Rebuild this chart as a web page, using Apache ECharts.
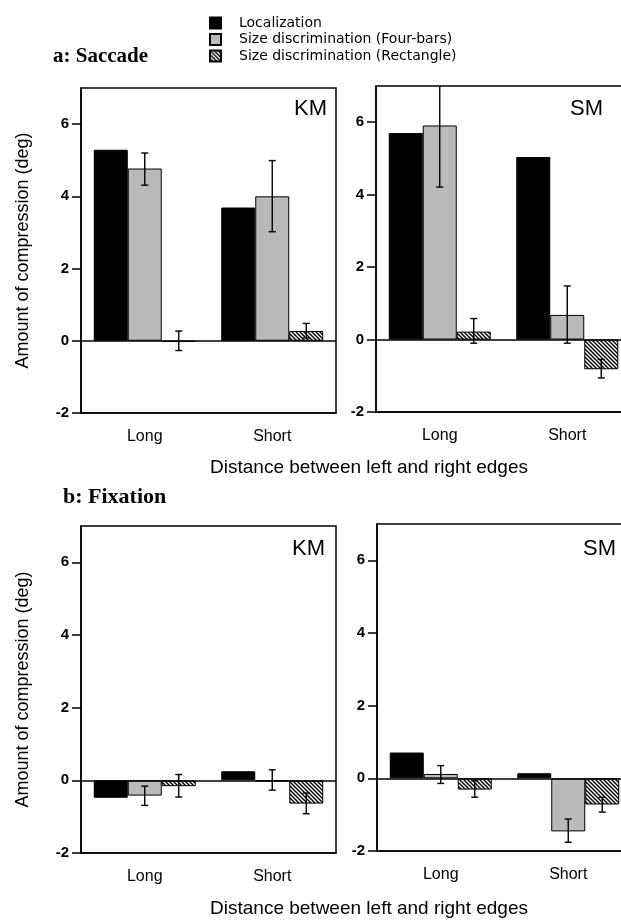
<!DOCTYPE html>
<html>
<head>
<meta charset="utf-8">
<script src="https://cdn.jsdelivr.net/npm/echarts@6/dist/echarts.min.js"></script>
<style>
html,body{margin:0;padding:0;background:#fff;}
#main{width:621px;height:922px;}
</style>
</head>
<body>
<div id="main"></div>
<script>
// ---- data ----
const categories = ['Long', 'Short'];
const seriesNames = ['Localization', 'Size discrimination (Four-bars)', 'Size discrimination (Rectangle)'];
const yTicks = [-2, 0, 2, 4, 6];

// a: Saccade, KM
const sacKM_loc  = [5.29, 3.69];
const sacKM_four = [4.77, 4.00];
const sacKM_rect = [-0.03, 0.27];
const sacKM_fourErr = [[4.31, 5.20], [3.02, 4.99]];
const sacKM_rectErr = [[-0.27, 0.27], [0.08, 0.48]];

// a: Saccade, SM
const sacSM_loc  = [5.70, 5.04];
const sacSM_four = [5.91, 0.68];
const sacSM_rect = [0.22, -0.82];
const sacSM_fourErr = [[4.21, 7.61], [-0.10, 1.48]];
const sacSM_rectErr = [[-0.10, 0.58], [-1.06, -0.55]];

// b: Fixation, KM
const fixKM_loc  = [-0.48, 0.25];
const fixKM_four = [-0.42, -0.03];
const fixKM_rect = [-0.16, -0.64];
const fixKM_fourErr = [[-0.69, -0.16], [-0.27, 0.29]];
const fixKM_rectErr = [[-0.46, 0.16], [-0.92, -0.35]];

// b: Fixation, SM
const fixSM_loc  = [0.71, 0.14];
const fixSM_four = [0.12, -1.46];
const fixSM_rect = [-0.31, -0.72];
const fixSM_fourErr = [[-0.14, 0.35], [-1.76, -1.12]];
const fixSM_rectErr = [[-0.52, -0.07], [-0.93, -0.52]];

const panelTitles = ['a: Saccade', 'b: Fixation'];
const subjectLabels = ['KM', 'SM', 'KM', 'SM'];
const xTitle = 'Distance between left and right edges';
const yTitle = 'Amount of compression (deg)';

// ---- build ----
const panels = [
  {loc: sacKM_loc, four: sacKM_four, rect: sacKM_rect, fourErr: sacKM_fourErr, rectErr: sacKM_rectErr},
  {loc: sacSM_loc, four: sacSM_four, rect: sacSM_rect, fourErr: sacSM_fourErr, rectErr: sacSM_rectErr},
  {loc: fixKM_loc, four: fixKM_four, rect: fixKM_rect, fourErr: fixKM_fourErr, rectErr: fixKM_rectErr},
  {loc: fixSM_loc, four: fixSM_four, rect: fixSM_rect, fourErr: fixSM_fourErr, rectErr: fixSM_rectErr}
];

const grids = [
  {left: 81, top: 88, width: 255, height: 325},
  {left: 376, top: 86, width: 255, height: 326},
  {left: 81, top: 526, width: 255, height: 327},
  {left: 377, top: 524, width: 255, height: 327}
];

// hatch pattern
const tile = document.createElement('canvas');
tile.width = 4; tile.height = 4;
const tctx = tile.getContext('2d');
tctx.fillStyle = '#fff';
tctx.fillRect(0, 0, 4, 4);
tctx.strokeStyle = '#000';
tctx.lineWidth = 1.4;
tctx.beginPath();
tctx.moveTo(-1, -1); tctx.lineTo(5, 5);
tctx.moveTo(-1, 3); tctx.lineTo(1, 5);
tctx.moveTo(3, -1); tctx.lineTo(5, 1);
tctx.stroke();
const hatch = {image: tile, repeat: 'repeat'};

const fills = ['#000000', '#bababa', hatch];

function errRender(params, api) {
  const cat = api.value(0), lo = api.value(1), hi = api.value(2), slot = api.value(3);
  const band = api.size([1, 0])[0];
  const barW = band * 0.8 / 3;
  const cx = api.coord([cat, 0])[0] + (slot - 1) * barW;
  const yLo = api.coord([cat, lo])[1];
  const yHi = api.coord([cat, hi])[1];
  const c = 3.5;
  const st = {stroke: '#000', lineWidth: 1.4};
  return {
    type: 'group',
    children: [
      {type: 'line', shape: {x1: cx, y1: yLo, x2: cx, y2: yHi}, style: st},
      {type: 'line', shape: {x1: cx - c, y1: yLo, x2: cx + c, y2: yLo}, style: st},
      {type: 'line', shape: {x1: cx - c, y1: yHi, x2: cx + c, y2: yHi}, style: st}
    ]
  };
}

const xAxes = [], yAxes = [], series = [], gridOpts = [];
grids.forEach((g, i) => {
  gridOpts.push(Object.assign({show: true, borderColor: '#000', borderWidth: 1.5, backgroundColor: 'transparent', containLabel: false, outerBoundsMode: 'none'}, g));
  xAxes.push({
    type: 'category', gridIndex: i, data: categories,
    axisLine: {onZero: false, lineStyle: {color: '#000', width: 1.5}},
    axisTick: {show: false},
    axisLabel: {color: '#000', fontSize: 16, margin: 16, fontFamily: 'Liberation Sans'}
  });
  const left = (i % 2 === 0);
  yAxes.push({
    type: 'value', gridIndex: i, min: -2, max: 7, interval: 2,
    splitLine: {show: false},
    axisLine: {show: true, lineStyle: {color: '#000', width: 1.5}},
    axisTick: {show: true, length: 9, customValues: yTicks, lineStyle: {color: '#000', width: 1.5}},
    axisLabel: {color: '#000', fontSize: 15, fontWeight: 'bold', margin: 12, fontFamily: 'Liberation Sans', customValues: yTicks},
    name: left ? yTitle : '',
    nameLocation: 'middle',
    nameGap: 49,
    nameTextStyle: {color: '#000', fontSize: 18, fontFamily: 'Liberation Sans'}
  });
  const p = panels[i];
  const vals = [p.loc, p.four, p.rect];
  vals.forEach((v, k) => {
    const s = {
      type: 'bar', name: seriesNames[k], xAxisIndex: i, yAxisIndex: i,
      data: v, barGap: '0%', barCategoryGap: '20%',
      itemStyle: {color: fills[k], borderColor: '#000', borderWidth: 1},
      emphasis: {disabled: true}
    };
    if (k === 0) {
      s.markLine = {
        silent: true, symbol: ['none', 'none'], label: {show: false},
        lineStyle: {color: '#000', width: 1.5, type: 'solid'},
        data: [{yAxis: 0}]
      };
    }
    series.push(s);
  });
  [[p.fourErr, 1], [p.rectErr, 2]].forEach(([err, slot]) => {
    series.push({
      type: 'custom', xAxisIndex: i, yAxisIndex: i, clip: true, z: 5,
      renderItem: errRender,
      data: err.map((e, ci) => [ci, e[0], e[1], slot])
    });
  });
});

const titles = [
  {text: panelTitles[0], left: 53, top: 46, textStyle: {fontFamily: 'Liberation Serif', fontWeight: 'bold', fontSize: 21, color: '#000'}},
  {text: panelTitles[1], left: 63, top: 486, textStyle: {fontFamily: 'Liberation Serif', fontWeight: 'bold', fontSize: 22, color: '#000'}},
  {text: subjectLabels[0], left: 294, top: 98, textStyle: {fontFamily: 'Liberation Sans', fontWeight: 'normal', fontSize: 22, color: '#000'}},
  {text: subjectLabels[1], left: 570, top: 98, textStyle: {fontFamily: 'Liberation Sans', fontWeight: 'normal', fontSize: 22, color: '#000'}},
  {text: subjectLabels[2], left: 292, top: 538, textStyle: {fontFamily: 'Liberation Sans', fontWeight: 'normal', fontSize: 22, color: '#000'}},
  {text: subjectLabels[3], left: 583, top: 538, textStyle: {fontFamily: 'Liberation Sans', fontWeight: 'normal', fontSize: 22, color: '#000'}},
  {text: xTitle, left: 369, top: 458, textAlign: 'center', textStyle: {fontFamily: 'Liberation Sans', fontWeight: 'normal', fontSize: 19, color: '#000'}},
  {text: xTitle, left: 369, top: 899, textAlign: 'center', textStyle: {fontFamily: 'Liberation Sans', fontWeight: 'normal', fontSize: 19, color: '#000'}}
].map(t => Object.assign({padding: 0}, t));

const chart = echarts.init(document.getElementById('main'), null, {renderer: 'canvas'});
chart.setOption({
  animation: false,
  backgroundColor: '#fff',
  title: titles,
  legend: {
    data: seriesNames,
    orient: 'vertical', left: 209, top: 16, padding: 0,
    itemWidth: 11, itemHeight: 11, itemGap: 2.5,
    icon: 'rect',
    selectedMode: false,
    textStyle: {fontFamily: 'DejaVu Sans', fontSize: 14, color: '#000', lineHeight: 11, padding: [0, 0, 0, 13]}
  },
  grid: gridOpts,
  xAxis: xAxes,
  yAxis: yAxes,
  series: series
});
</script>
</body>
</html>
